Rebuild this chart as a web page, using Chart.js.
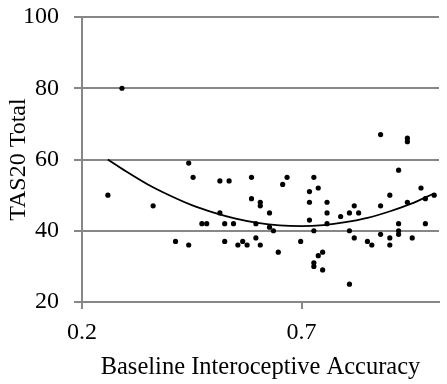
<!DOCTYPE html>
<html>
<head>
<meta charset="utf-8">
<script src="https://cdn.jsdelivr.net/npm/chart.js@4"></script>
<style>
  html, body { margin: 0; padding: 0; background: #fff; }
  #wrap { width: 447px; height: 384px; }
</style>
</head>
<body>
<div id="wrap"><canvas id="myScatter" width="447" height="384"></canvas></div>
<script>
// scatter points
var accuracy = [0.259, 0.291, 0.362, 0.413, 0.443, 0.443, 0.453, 0.473, 0.484, 0.514,
    0.514, 0.525, 0.525, 0.535, 0.545, 0.555, 0.566, 0.576, 0.586, 0.586,
    0.596, 0.596, 0.606, 0.606, 0.606, 0.627, 0.627, 0.636, 0.647, 0.657,
    0.667, 0.698, 0.718, 0.718, 0.718, 0.728, 0.728, 0.728, 0.728, 0.738,
    0.738, 0.748, 0.748, 0.758, 0.758, 0.758, 0.789, 0.809, 0.809, 0.809,
    0.820, 0.820, 0.830, 0.850, 0.860, 0.880, 0.880, 0.880, 0.901, 0.901,
    0.901, 0.921, 0.921, 0.921, 0.921, 0.941, 0.941, 0.941, 0.952, 0.972,
    0.982, 0.982, 1.002];
var tas20 = [50, 80, 47, 37, 59, 36, 55, 42, 42, 54,
    45, 42, 37, 54, 42, 36, 37, 36, 55, 49,
    42, 38, 48, 47, 36, 45, 41, 40, 34, 53,
    55, 37, 51, 48, 43, 55, 40, 31, 30, 52,
    33, 34, 29, 48, 45, 42, 44, 45, 40, 25,
    47, 38, 45, 37, 36, 67, 47, 39, 50, 38,
    36, 57, 42, 40, 39, 66, 65, 48, 38, 52,
    49, 42, 50];

// trend line
var trendX = [0.259, 0.30, 0.35, 0.40, 0.45, 0.50, 0.55, 0.60, 0.65, 0.70, 0.75, 0.80, 0.85, 0.90, 0.95, 1.00];
var trendY = [60.0, 56.7, 53.0, 49.9, 47.2, 45.1, 43.4, 42.2, 41.5, 41.3, 41.6, 42.4, 43.6, 45.4, 47.6, 50.4];

var xTicks = [0.2, 0.7];
var yTicks = [20, 40, 60, 80, 100];

var points = accuracy.map(function (v, i) { return { x: v, y: tas20[i] }; });
var trend = trendX.map(function (v, i) { return { x: v, y: trendY[i] }; });

var serif = "'Liberation Serif', 'DejaVu Serif', serif";
var gridGray = '#878787';

var ctx = document.getElementById('myScatter');
var myChart = new Chart(ctx, {
    type: 'scatter',
    data: {
        datasets: [{
            label: 'TAS20',
            data: points,
            backgroundColor: '#000',
            borderColor: '#000',
            pointRadius: 2.6,
            pointBorderWidth: 0,
            order: 1
        }, {
            label: 'Trend',
            type: 'line',
            data: trend,
            showLine: true,
            borderColor: '#000',
            borderWidth: 1.8,
            pointRadius: 0,
            fill: false,
            tension: 0.4,
            cubicInterpolationMode: 'monotone',
            order: 0
        }]
    },
    options: {
        responsive: false,
        animation: false,
        layout: { padding: { top: 17, right: 8, left: 0, bottom: 0 } },
        plugins: {
            legend: { display: false },
            tooltip: { enabled: false }
        },
        scales: {
            x: {
                type: 'linear',
                min: 0.2,
                max: 1.013,
                afterBuildTicks: function (scale) {
                    scale.ticks = xTicks.map(function (v) { return { value: v }; });
                },
                afterFit: function (scale) {
                    scale.height = 82;
                    scale.paddingLeft = 0;
                    scale.paddingRight = 0;
                },
                grid: { drawOnChartArea: false, drawTicks: true, tickLength: 7, color: gridGray, lineWidth: 2 },
                border: { display: true, color: gridGray, width: 2 },
                ticks: {
                    color: '#000',
                    font: { family: serif, size: 24 },
                    padding: 9,
                    maxRotation: 0,
                    callback: function (v) { return v.toFixed(1); }
                },
                title: {
                    display: true,
                    text: 'Baseline Interoceptive Accuracy',
                    color: '#000',
                    font: { family: serif, size: 24.5 },
                    padding: { top: 4, bottom: 2 }
                }
            },
            y: {
                min: 20,
                max: 100,
                afterBuildTicks: function (scale) {
                    scale.ticks = yTicks.map(function (v) { return { value: v }; });
                },
                afterFit: function (scale) {
                    scale.width = 82;
                    scale.paddingTop = 0;
                    scale.paddingBottom = 0;
                },
                grid: { color: gridGray, lineWidth: 2, drawTicks: true, tickLength: 8 },
                border: { display: true, color: gridGray, width: 2 },
                ticks: {
                    color: '#000',
                    font: { family: serif, size: 24 },
                    padding: 15
                },
                title: {
                    display: true,
                    text: 'TAS20 Total',
                    color: '#000',
                    font: { family: serif, size: 24 },
                    padding: { top: 4, bottom: 0 }
                }
            }
        }
    }
});
</script>
</body>
</html>
